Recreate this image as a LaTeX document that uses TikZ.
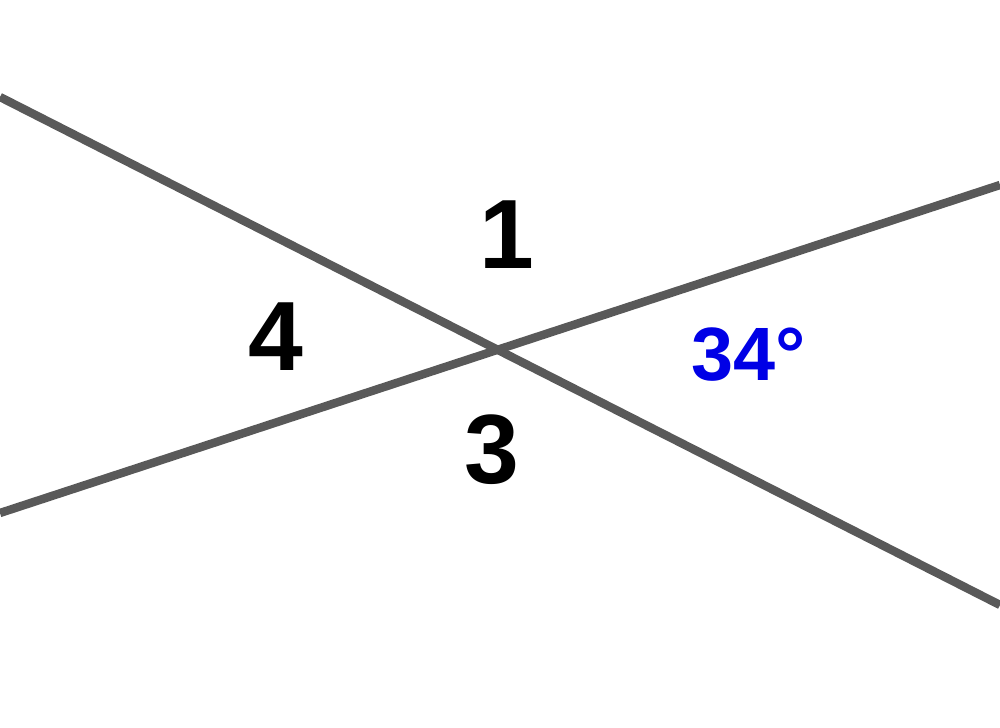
\documentclass[tikz,border=0pt]{standalone}
\usepackage{fontspec}
\setmainfont{Liberation Sans}
\usepackage{tikz}

\definecolor{linegray}{RGB}{89,89,89}
\definecolor{angleblue}{RGB}{0,0,230}

\tikzset{
	crossline/.style = {draw=linegray, line width=2.4pt},
	anglelabel/.style = {inner sep=0pt, font=\fontsize{28}{32}\selectfont\bfseries},
	givenlabel/.style = {inner sep=0pt, text=angleblue, font=\fontsize{21.5}{26}\selectfont\bfseries}
}

\begin{document}
\begin{tikzpicture}[x=0.01cm, y=-0.01cm]
			
			\useasboundingbox (0,0) rectangle (1000,728);
			
			\coordinate (a1) at (0,97);
			\coordinate (a2) at (1000,605);
			\coordinate (b1) at (0,513);
			\coordinate (b2) at (1000,185);
			
			\draw[crossline] (a1) -- (a2);
			\draw[crossline] (b1) -- (b2);
			
			
			\node[anglelabel] (one) at (507,235) {1};
			\node[anglelabel] (four) at (276,337) {4};
			\node[anglelabel] (three) at (492,450) {3};
			\node[givenlabel] (given) at (749,355) {34°};
			
			\end{tikzpicture}
\end{document}
